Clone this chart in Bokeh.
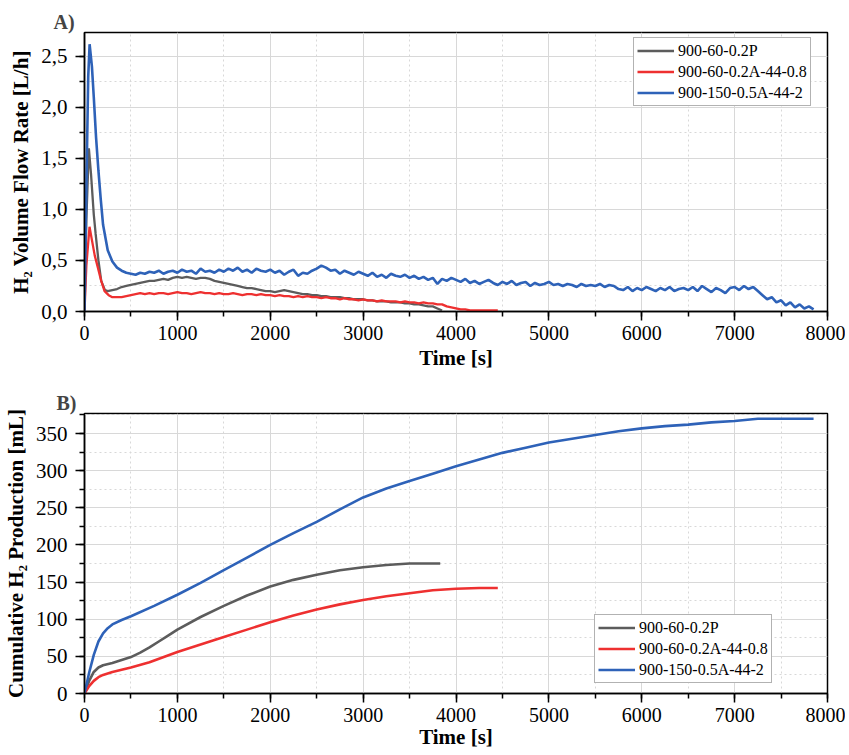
from bokeh.plotting import figure
from bokeh.layouts import column
from bokeh.models import (Range1d, SingleIntervalTicker, CustomJSTickFormatter,
                          Legend, LegendItem)
from bokeh.embed import file_html
from bokeh.resources import INLINE

# ---------------- data ----------------
series_names = ["900-60-0.2P", "900-60-0.2A-44-0.8", "900-150-0.5A-44-2"]
series_colors = ["#5c5c5c", "#ee3030", "#2e62b8"]

# Panel A: H2 volume flow rate [L/h]
t_gray = [0, 20, 47, 70, 100, 120, 150, 180, 220, 250] + list(range(300, 3851, 50))
q_gray = [0.0, 0.90, 1.60, 1.35, 0.95, 0.76, 0.50, 0.30, 0.21, 0.20,
          0.21, 0.22, 0.24, 0.25, 0.26, 0.27, 0.28, 0.29, 0.30, 0.30,
          0.31, 0.32, 0.31, 0.33, 0.34, 0.33, 0.34, 0.33, 0.32, 0.33,
          0.33, 0.32, 0.30, 0.29, 0.28, 0.27, 0.26, 0.25, 0.24, 0.23,
          0.23, 0.22, 0.21, 0.20, 0.20, 0.19, 0.20, 0.21, 0.20, 0.19,
          0.18, 0.17, 0.17, 0.16, 0.16, 0.15, 0.15, 0.14, 0.14, 0.14,
          0.13, 0.13, 0.12, 0.12, 0.12, 0.11, 0.11, 0.10, 0.10, 0.10,
          0.09, 0.09, 0.09, 0.08, 0.08, 0.07, 0.07, 0.06, 0.05, 0.05,
          0.03, 0.01]

t_red = [0, 20, 54, 80, 110, 144, 180, 216, 260, 300] + list(range(350, 4451, 50))
q_red = [0.0, 0.45, 0.83, 0.70, 0.55, 0.43, 0.30, 0.20, 0.16, 0.14,
         0.14, 0.14, 0.15, 0.16, 0.17, 0.18, 0.17, 0.18, 0.17, 0.18,
         0.18, 0.17, 0.18, 0.19, 0.18, 0.18, 0.17, 0.18, 0.19, 0.18,
         0.18, 0.17, 0.18, 0.17, 0.17, 0.18, 0.17, 0.16, 0.17, 0.17,
         0.16, 0.17, 0.16, 0.16, 0.15, 0.16, 0.15, 0.15, 0.14, 0.15,
         0.14, 0.15, 0.14, 0.14, 0.13, 0.14, 0.13, 0.13, 0.12, 0.13,
         0.12, 0.12, 0.11, 0.12, 0.11, 0.11, 0.10, 0.11, 0.10, 0.10,
         0.10, 0.09, 0.10, 0.09, 0.09, 0.08, 0.09, 0.08, 0.08, 0.07,
         0.07, 0.05, 0.04, 0.03, 0.02, 0.02, 0.01, 0.01, 0.01, 0.01,
         0.01, 0.01, 0.01]

t_blue = [0, 20, 40, 55, 80, 100, 125, 150, 175, 200, 250, 300, 350] + list(range(400, 7851, 50))
q_blue = [0.0, 1.20, 2.30, 2.62, 2.40, 2.10, 1.70, 1.38, 1.10, 0.85, 0.60, 0.49, 0.43,
          0.40, 0.38, 0.37, 0.36, 0.38, 0.37, 0.39, 0.38, 0.40, 0.37, 0.39, 0.40,
          0.38, 0.41, 0.39, 0.40, 0.37, 0.42, 0.39, 0.40, 0.38, 0.41,
          0.39, 0.42, 0.40, 0.43, 0.39, 0.41, 0.38, 0.42, 0.40, 0.39,
          0.41, 0.38, 0.40, 0.36, 0.39, 0.41, 0.35, 0.38, 0.37, 0.40,
          0.42, 0.45, 0.43, 0.40, 0.41, 0.37, 0.40, 0.38, 0.36, 0.39,
          0.37, 0.35, 0.38, 0.34, 0.36, 0.33, 0.37, 0.35, 0.34, 0.36,
          0.33, 0.35, 0.32, 0.34, 0.31, 0.33, 0.27, 0.32, 0.30, 0.33,
          0.31, 0.29, 0.32, 0.28, 0.30, 0.27, 0.29, 0.31, 0.28, 0.26,
          0.29, 0.27, 0.30, 0.26, 0.28, 0.29, 0.25, 0.28, 0.26, 0.27,
          0.29, 0.26, 0.27, 0.25, 0.27, 0.26, 0.24, 0.27, 0.25, 0.26,
          0.25, 0.27, 0.24, 0.26, 0.25, 0.22, 0.21, 0.24, 0.20, 0.23,
          0.21, 0.24, 0.22, 0.20, 0.23, 0.21, 0.24, 0.20, 0.22, 0.23,
          0.21, 0.24, 0.20, 0.25, 0.22, 0.19, 0.23, 0.21, 0.18, 0.23,
          0.24, 0.21, 0.25, 0.22, 0.24, 0.20, 0.16, 0.12, 0.14, 0.09,
          0.11, 0.06, 0.09, 0.04, 0.07, 0.03, 0.05, 0.02]

# Panel B: cumulative H2 production [mL]
tc_gray = [0, 50, 100, 150, 200, 300, 400, 500, 600, 700, 800, 900, 1000, 1250, 1500,
           1750, 2000, 2250, 2500, 2750, 3000, 3250, 3500, 3830]
c_gray = [0, 17, 29, 35, 38, 41, 45, 49, 55, 62, 70, 78, 86, 103, 118,
          132, 144, 153, 160, 166, 170, 173, 175, 175]

tc_red = [0, 50, 100, 150, 200, 300, 400, 500, 700, 1000, 1250, 1500, 1750, 2000, 2250,
          2500, 2750, 3000, 3250, 3500, 3750, 4000, 4250, 4450]
c_red = [0, 10, 17, 22, 25, 29, 32, 35, 42, 56, 66, 76, 86, 96, 105,
         113, 120, 126, 131, 135, 139, 141, 142, 142]

tc_blue = [0, 50, 100, 150, 200, 250, 300, 400, 500, 750, 1000, 1250, 1500, 1750, 2000,
           2250, 2500, 2750, 3000, 3250, 3500, 3750, 4000, 4250, 4500, 4750, 5000, 5250,
           5500, 5750, 6000, 6250, 6500, 6750, 7000, 7250, 7500, 7850]
c_blue = [0, 28, 52, 70, 81, 88, 93, 99, 104, 118, 133, 149, 166, 183, 200,
          216, 231, 248, 264, 276, 286, 296, 306, 315, 324, 331, 338, 343,
          348, 353, 357, 360, 362, 365, 367, 370, 370, 370]

x_max = 8000
yA_max = 2.735
yB_max = 377

SERIF = "Liberation Serif"


def style(p, y_interval, y_minor, lab_standoff):
    p.outline_line_color = "black"
    p.outline_line_width = 1.5
    p.background_fill_color = "white"
    p.border_fill_color = "white"
    for ax in (p.xaxis[0], p.yaxis[0]):
        ax.axis_line_width = 1.5
        ax.axis_line_color = "black"
        ax.major_tick_line_width = 1.5
        ax.minor_tick_line_width = 1.5
        ax.major_tick_in = 0
        ax.major_tick_out = 9
        ax.minor_tick_in = 0
        ax.minor_tick_out = 5
        ax.major_label_text_font = SERIF
        ax.major_label_text_color = "black"
        ax.axis_label_text_font = SERIF
        ax.axis_label_text_font_size = "21px"
        ax.axis_label_text_font_style = "bold"
        ax.axis_label_text_color = "black"
    p.xaxis[0].major_label_text_font_size = "20px"
    p.yaxis[0].major_label_text_font_size = "21px"
    p.xaxis[0].ticker = SingleIntervalTicker(interval=1000, num_minor_ticks=2)
    p.yaxis[0].ticker = SingleIntervalTicker(interval=y_interval, num_minor_ticks=y_minor)
    p.xaxis[0].major_label_standoff = 5
    p.xaxis[0].axis_label_standoff = lab_standoff
    p.yaxis[0].major_label_standoff = 8
    p.yaxis[0].axis_label_standoff = 5
    for g in (p.xgrid[0], p.ygrid[0]):
        g.grid_line_color = "#d8d8d8"
        g.grid_line_width = 1
        g.minor_grid_line_color = "#d8d8d8"
        g.minor_grid_line_width = 1
        g.minor_grid_line_dash = "2 3"
    p.title.text_font = SERIF
    p.title.text_font_size = "20px"
    p.title.text_font_style = "bold"
    p.title.align = "left"
    p.title.standoff = 0


def make_legend(p, renderers, loc):
    items = [LegendItem(label=n, renderers=[r]) for n, r in zip(series_names, renderers)]
    lg = Legend(items=items, location=loc)
    lg.label_text_font = SERIF
    lg.label_text_font_size = "16px"
    lg.label_text_color = "black"
    lg.glyph_width = 37
    lg.glyph_height = 19
    lg.label_height = 19
    lg.label_standoff = 4
    lg.spacing = 2
    lg.padding = 3
    lg.margin = 0
    lg.border_line_color = "#666666"
    lg.border_line_width = 1.2
    lg.background_fill_alpha = 1
    p.add_layout(lg)


# ---------------- panel A ----------------
pA = figure(width=845, height=376, output_backend="svg", toolbar_location=None,
            title="A)",
            x_range=Range1d(0, x_max), y_range=Range1d(0, yA_max),
            min_border_left=83, min_border_right=18, min_border_top=32, min_border_bottom=65)
style(pA, 0.5, 2, 3)
pA.title.offset = -31
pA.yaxis[0].formatter = CustomJSTickFormatter(code="return tick.toFixed(1).replace('.', ',');")
pA.xaxis[0].axis_label = "Time [s]"
pA.yaxis[0].axis_label = "H\u2082 Volume Flow Rate [L/h]"
rA = []
for t, q, c, w in ((t_gray, q_gray, series_colors[0], 2.3),
                   (t_red, q_red, series_colors[1], 2.3),
                   (t_blue, q_blue, series_colors[2], 2.6)):
    rA.append(pA.line(t, q, line_color=c, line_width=w))
make_legend(pA, rA, (549, 205))

# ---------------- panel B ----------------
pB = figure(width=845, height=379, output_backend="svg", toolbar_location=None,
            title="B)",
            x_range=Range1d(0, x_max), y_range=Range1d(0, yB_max),
            min_border_left=83, min_border_right=18, min_border_top=37, min_border_bottom=62)
style(pB, 50, 2, 0)
pB.title.offset = -28
pB.xaxis[0].axis_label = "Time [s]"
pB.yaxis[0].axis_label = "Cumulative H\u2082 Production [mL]"
rB = []
for t, q, c in ((tc_gray, c_gray, series_colors[0]),
                (tc_red, c_red, series_colors[1]),
                (tc_blue, c_blue, series_colors[2])):
    rB.append(pB.line(t, q, line_color=c, line_width=2.6))
make_legend(pB, rB, (510, 10))

layout = column(pA, pB, spacing=0)
open("out.html", "w").write(file_html(layout, INLINE))
